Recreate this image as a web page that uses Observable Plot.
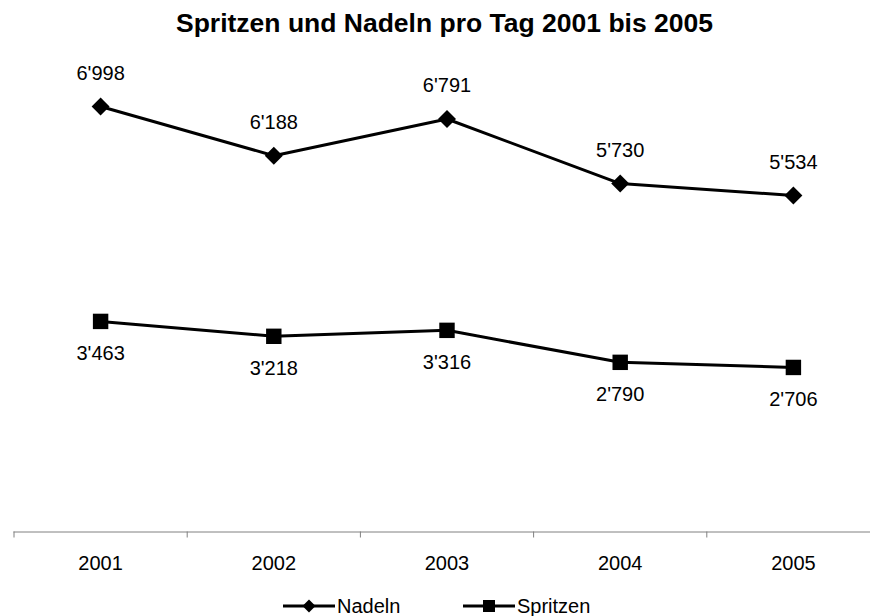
<!DOCTYPE html>
<html>
<head>
<meta charset="utf-8">
<script src="https://cdn.jsdelivr.net/npm/d3@7"></script>
<script src="https://cdn.jsdelivr.net/npm/@observablehq/plot@0.6"></script>
<style>
  body { margin: 0; background: #fff; font-family: "Liberation Sans", Arial, sans-serif; }
  #wrap { position: relative; width: 870px; height: 616px; overflow: hidden; }
  #title { position: absolute; left: 0; top: 0; width: 851px; padding-left: 19px; height: 40px;
           text-align: center; font-weight: bold; font-size: 26.5px; line-height: 46px; color: #000; }
  #chart { position: absolute; left: 0; top: 40px; }
  .leg { position: absolute; top: 594px; height: 24px; display: flex; align-items: center;
         font-size: 20px; line-height: 22px; color: #000; }
  .leg svg { display: block; margin-right: 2px; }
</style>
</head>
<body>
<div id="wrap">
  <div id="title">Spritzen und Nadeln pro Tag 2001 bis 2005</div>
  <div id="chart"></div>
  <div class="leg" style="left:283px"><svg width="52" height="16"><line x1="0" x2="52" y1="8" y2="8" stroke="#000" stroke-width="3"/><path d="M26,1.5L32.5,8L26,14.5L19.5,8Z" fill="#000"/></svg><span>Nadeln</span></div>
  <div class="leg" style="left:463px"><svg width="52" height="16"><line x1="0" x2="52" y1="8" y2="8" stroke="#000" stroke-width="3"/><rect x="20" y="2" width="12" height="12" fill="#000"/></svg><span>Spritzen</span></div>
</div>
<script>
const years = [2001, 2002, 2003, 2004, 2005];
const nadeln = [6998, 6188, 6791, 5730, 5534];
const spritzen = [3463, 3218, 3316, 2790, 2706];
const seriesNames = ["Nadeln", "Spritzen"];

const fmt = d3.formatLocale({decimal: ".", thousands: "'", grouping: [3], currency: ["", ""]}).format(",d");

const dataN = years.map((y, i) => ({year: y, value: nadeln[i], series: seriesNames[0]}));
const dataS = years.map((y, i) => ({year: y, value: spritzen[i], series: seriesNames[1]}));
const boundaries = years.map(y => y - 0.5);

const chart = Plot.plot({
  width: 870,
  height: 540,
  marginLeft: 13.5,
  marginRight: 0,
  marginTop: 5,
  marginBottom: 48.5,
  style: {fontFamily: '"Liberation Sans", Arial, sans-serif', fontSize: "20px", background: "transparent", color: "#000", overflow: "visible"},
  x: {domain: [years[0] - 0.5, years[years.length - 1] + 0.5], range: [13.5, 879.5], label: null},
  y: {domain: [0, 8000], axis: null, label: null},
  marks: [
    Plot.ruleY([0], {stroke: "#808080", strokeWidth: 1}),
    Plot.axisX({ticks: boundaries, tickSize: 6, tickFormat: () => "", label: null, stroke: "#808080", strokeOpacity: 1}),
    Plot.axisX({ticks: years, tickSize: 0, tickPadding: 24, tickFormat: d => String(d), label: null, fill: "#000", fontSize: 20}),
    Plot.line(dataN, {x: "year", y: "value", stroke: "#000", strokeWidth: 3}),
    Plot.line(dataS, {x: "year", y: "value", stroke: "#000", strokeWidth: 3}),
    Plot.dot(dataN, {x: "year", y: "value", symbol: "diamond2", r: 8.1, fill: "#000", stroke: null}),
    Plot.dot(dataS, {x: "year", y: "value", symbol: "square", r: 8.7, fill: "#000", stroke: null}),
    Plot.text(dataN, {x: "year", y: "value", text: d => fmt(d.value), dy: -33, fill: "#000", fontSize: 20}),
    Plot.text(dataS, {x: "year", y: "value", text: d => fmt(d.value), dy: 32, fill: "#000", fontSize: 20})
  ]
});
document.getElementById("chart").appendChild(chart);
</script>
</body>
</html>
